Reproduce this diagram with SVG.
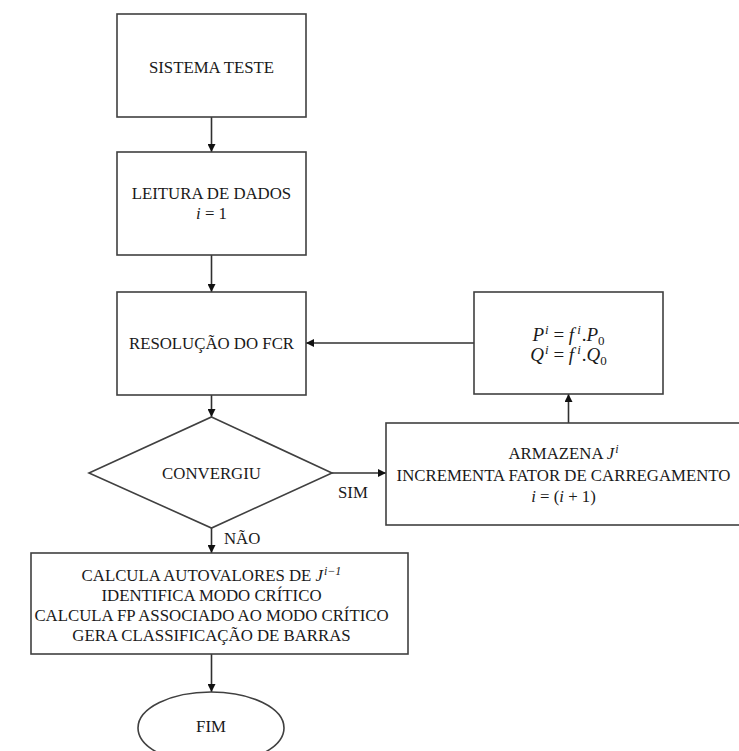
<svg xmlns="http://www.w3.org/2000/svg" width="739" height="751" viewBox="0 0 739 751">
<defs>
<style>
.box{fill:#fff;stroke:#404040;stroke-width:1.6}
.t{font-family:"Liberation Serif","Times New Roman",serif;font-size:16.8px;fill:#1a1a1a;text-anchor:middle}
.tl{font-family:"Liberation Serif","Times New Roman",serif;font-size:16.8px;fill:#1a1a1a}
.m{font-family:"Liberation Serif","Times New Roman",serif;font-size:19px;fill:#1a1a1a;text-anchor:middle}
.it{font-style:italic}
.sup{font-size:12px;font-style:italic}
.msup{font-size:13px;font-style:italic}
.conn{stroke:#303030;stroke-width:1.6;fill:none;marker-end:url(#ah)}
</style>
<marker id="ah" viewBox="0 0 10 10" refX="10" refY="5" markerWidth="8" markerHeight="8" markerUnits="userSpaceOnUse" orient="auto">
<path d="M0,0 L10,5 L0,10 z" fill="#111"/>
</marker>
</defs>
<rect width="739" height="751" fill="#fff"/>
<g id="connectors">
<line class="conn" x1="211.5" y1="117" x2="211.5" y2="152"/>
<line class="conn" x1="211.5" y1="255" x2="211.5" y2="292"/>
<line class="conn" x1="211.5" y1="395" x2="211.5" y2="417"/>
<line class="conn" x1="211.5" y1="528" x2="211.5" y2="553"/>
<line class="conn" x1="211.5" y1="654" x2="211.5" y2="692"/>
<line class="conn" x1="474" y1="343" x2="306" y2="343"/>
<line class="conn" x1="332" y1="473" x2="386" y2="473"/>
<line class="conn" x1="568.5" y1="423" x2="568.5" y2="394"/>
</g>
<g id="sistema">
<rect class="box" x="117" y="14" width="189" height="103"/>
<text class="t" x="211.5" y="72.5">SISTEMA TESTE</text>
</g>
<g id="leitura">
<rect class="box" x="117" y="152" width="189" height="103"/>
<text class="t" x="211.5" y="199">LEITURA DE DADOS</text>
<text class="t" x="211.5" y="219"><tspan class="it">i</tspan> = 1</text>
</g>
<g id="resolucao">
<rect class="box" x="117" y="292" width="189" height="103"/>
<text class="t" x="211.5" y="349">RESOLUÇÃO DO FCR</text>
</g>
<g id="convergiu">
<polygon class="box" points="211.5,417 332,473 211.5,528 89,473"/>
<text class="t" x="211.5" y="478.5">CONVERGIU</text>
<text class="tl" x="338" y="498">SIM</text>
<text class="tl" x="224" y="543.5">NÃO</text>
</g>
<g id="potencia">
<rect class="box" x="474" y="292" width="189" height="102"/>
<text class="m" x="568.5" y="341"><tspan class="it">P</tspan><tspan class="msup" dx="1" dy="-7">i</tspan><tspan dy="7"> = </tspan><tspan class="it">f</tspan><tspan class="msup" dx="3" dy="-7">i</tspan><tspan dx="1" dy="7">.</tspan><tspan class="it">P</tspan><tspan font-size="13" dy="4">0</tspan></text>
<text class="m" x="568.5" y="361"><tspan class="it">Q</tspan><tspan class="msup" dx="1" dy="-7">i</tspan><tspan dy="7"> = </tspan><tspan class="it">f</tspan><tspan class="msup" dx="3" dy="-7">i</tspan><tspan dx="1" dy="7">.</tspan><tspan class="it">Q</tspan><tspan font-size="13" dy="4">0</tspan></text>
</g>
<g id="armazena">
<rect class="box" x="386" y="423" width="356" height="102"/>
<text class="t" x="563.5" y="459">ARMAZENA <tspan class="it">J</tspan><tspan class="sup" dx="1" dy="-6">i</tspan></text>
<text class="t" x="563.5" y="481">INCREMENTA FATOR DE CARREGAMENTO</text>
<text class="t" x="563.5" y="502"><tspan class="it">i</tspan> = (<tspan class="it">i</tspan> + 1)</text>
</g>
<g id="calcula">
<rect class="box" x="31" y="553" width="377" height="101"/>
<text class="t" x="211.5" y="581">CALCULA AUTOVALORES DE <tspan class="it">J</tspan><tspan class="sup" dx="1" dy="-6">i−1</tspan></text>
<text class="t" x="211.5" y="601">IDENTIFICA MODO CRÍTICO</text>
<text class="t" x="211.5" y="621">CALCULA FP ASSOCIADO AO MODO CRÍTICO</text>
<text class="t" x="211.5" y="641">GERA CLASSIFICAÇÃO DE BARRAS</text>
</g>
<g id="fim">
<ellipse class="box" cx="211" cy="728" rx="73" ry="36"/>
<text class="t" x="211" y="731.5">FIM</text>
</g>
</svg>
